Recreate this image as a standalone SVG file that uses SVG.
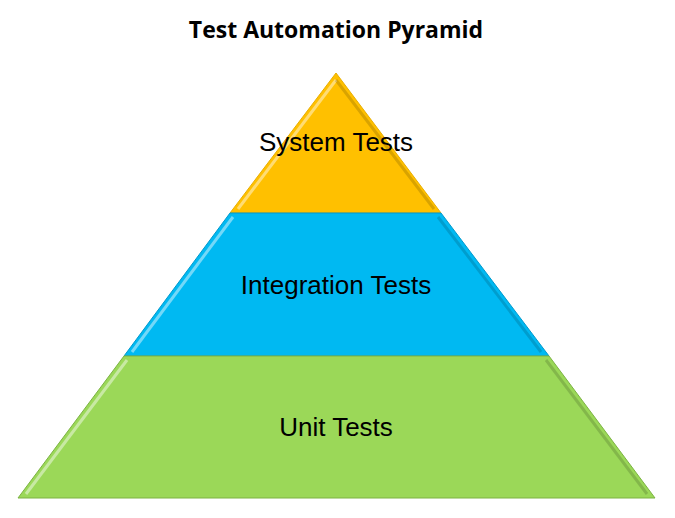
<svg xmlns="http://www.w3.org/2000/svg" width="675" height="518" viewBox="0 0 675 518">
<style>
.t{font-family:"Liberation Sans",Arial,sans-serif;font-size:26px;fill:#000;text-anchor:middle}
.h{font-family:"Open Sans","Liberation Sans",sans-serif;font-weight:bold;font-size:23px;text-anchor:middle}
.hl{fill:none;stroke:#fff;stroke-opacity:0.45;stroke-width:3}
.sh{fill:none;stroke:#000;stroke-opacity:0.15;stroke-width:3}
</style>
<rect width="675" height="518" fill="#fff"/>
<text class="h" x="336" y="38">Test Automation Pyramid</text>
<g id="system">
<polygon points="336,73 230,213 441,213" fill="#FFC000" stroke="#E8AE00" stroke-width="1"/>
<polyline class="hl" points="238,209 336,80"/>
<polyline class="sh" points="336,80 434,209"/>
<text class="t" x="336" y="151">System Tests</text>
</g>
<g id="integration">
<polygon points="230,213 441,213 549,356 124,356" fill="#00B9F2" stroke="#0099CC" stroke-width="1"/>
<polyline class="hl" points="132,352 233,217"/>
<polyline class="sh" points="438,217 541,352"/>
<text class="t" x="336" y="294">Integration Tests</text>
</g>
<g id="unit">
<polygon points="124,356 549,356 655,498 18,498" fill="#9BD858" stroke="#7CB342" stroke-width="1"/>
<polyline class="hl" points="26,494 127,360"/>
<polyline class="sh" points="546,360 647,494"/>
<text class="t" x="336" y="436">Unit Tests</text>
</g>
<g id="connectors"/>
</svg>
